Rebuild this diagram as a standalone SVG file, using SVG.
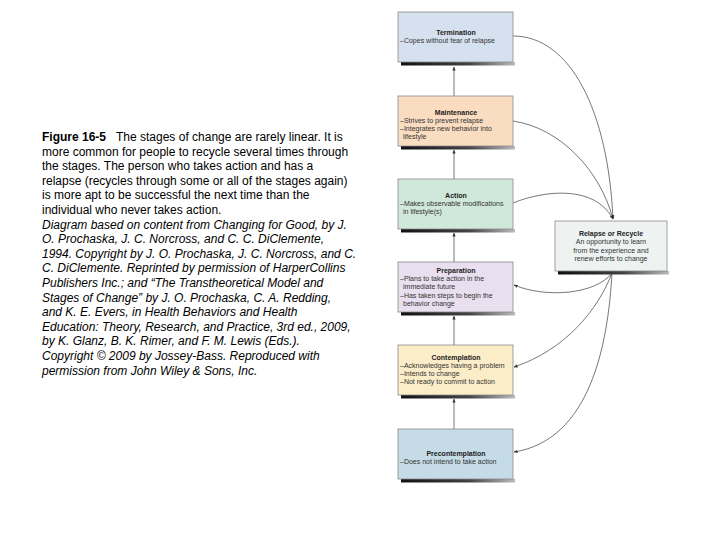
<svg xmlns="http://www.w3.org/2000/svg" width="720" height="540" viewBox="0 0 720 540">
<style>
.cap{font-family:"Liberation Sans",Arial,sans-serif;font-size:12px;fill:#000}
.it{font-style:italic}
.box{stroke:#8a8a8a;stroke-width:0.8}
.t{font-family:"Liberation Sans",Arial,sans-serif;font-size:7px;fill:#333}
.tb{font-weight:bold;text-anchor:middle;fill:#222}
.c{text-anchor:middle}
.ln{fill:none;stroke:#555;stroke-width:0.8}
</style>
<defs>
<linearGradient id="sh" x1="0" y1="0" x2="1" y2="0">
<stop offset="0" stop-color="#111"/>
<stop offset="0.6" stop-color="#444"/>
<stop offset="1" stop-color="#bbb"/>
</linearGradient>
<marker id="ah" viewBox="0 0 10 10" refX="9" refY="5" markerWidth="4" markerHeight="4" orient="auto" markerUnits="userSpaceOnUse">
<path d="M0,1 L10,5 L0,9 z" fill="#333"/>
</marker>
</defs>
<rect width="720" height="540" fill="#fff"/>

<g id="caption">
<text class="cap" x="42" y="141"><tspan font-weight="bold">Figure 16-5</tspan><tspan x="116">The stages of change are rarely linear. It is</tspan></text>
<text class="cap" x="42" y="155.6">more common for people to recycle several times through</text>
<text class="cap" x="42" y="170.2">the stages. The person who takes action and has a</text>
<text class="cap" x="42" y="184.8">relapse (recycles through some or all of the stages again)</text>
<text class="cap" x="42" y="199.4">is more apt to be successful the next time than the</text>
<text class="cap" x="42" y="214">individual who never takes action.</text>
<text class="cap it" x="42" y="228.6">Diagram based on content from Changing for Good, by J.</text>
<text class="cap it" x="42" y="243.2">O. Prochaska, J. C. Norcross, and C. C. DiClemente,</text>
<text class="cap it" x="42" y="257.8">1994. Copyright by J. O. Prochaska, J. C. Norcross, and C.</text>
<text class="cap it" x="42" y="272.4">C. DiClemente. Reprinted by permission of HarperCollins</text>
<text class="cap it" x="42" y="287">Publishers Inc.; and “The Transtheoretical Model and</text>
<text class="cap it" x="42" y="301.6">Stages of Change” by J. O. Prochaska, C. A. Redding,</text>
<text class="cap it" x="42" y="316.2">and K. E. Evers, in Health Behaviors and Health</text>
<text class="cap it" x="42" y="330.8">Education: Theory, Research, and Practice, 3rd ed., 2009,</text>
<text class="cap it" x="42" y="345.4">by K. Glanz, B. K. Rimer, and F. M. Lewis (Eds.).</text>
<text class="cap it" x="42" y="360">Copyright © 2009 by Jossey-Bass. Reproduced with</text>
<text class="cap it" x="42" y="374.6">permission from John Wiley &amp; Sons, Inc.</text>
</g>

<g id="connectors">
<line class="ln" x1="454" y1="96" x2="454" y2="67" marker-end="url(#ah)"/>
<line class="ln" x1="454" y1="179" x2="454" y2="150" marker-end="url(#ah)"/>
<line class="ln" x1="454" y1="262" x2="454" y2="233" marker-end="url(#ah)"/>
<line class="ln" x1="454" y1="345" x2="454" y2="316" marker-end="url(#ah)"/>
<line class="ln" x1="454" y1="429" x2="454" y2="399" marker-end="url(#ah)"/>
<path class="ln" d="M513,36 C570,36 608,110 613,219" marker-end="url(#ah)"/>
<path class="ln" d="M513,121 C560,128 600,170 613,219" marker-end="url(#ah)"/>
<path class="ln" d="M513,203 C545,190 595,185 613,219" marker-end="url(#ah)"/>
<path class="ln" d="M612,273 C595,295 545,298 514,285" marker-end="url(#ah)"/>
<path class="ln" d="M612,273 C598,310 565,350 514,367" marker-end="url(#ah)"/>
<path class="ln" d="M612,273 C608,345 590,440 514,452" marker-end="url(#ah)"/>
</g>

<g id="termination">
<rect x="401" y="62" width="114" height="3.5" fill="url(#sh)"/>
<rect class="box" x="398" y="12" width="115" height="50" fill="#d6e1ef"/>
<text class="t tb" x="456" y="35">Termination</text>
<text class="t" x="400" y="43">–Copes without fear of relapse</text>
</g>

<g id="maintenance">
<rect x="401" y="146" width="114" height="3.5" fill="url(#sh)"/>
<rect class="box" x="398" y="96" width="115" height="50" fill="#fadcc1"/>
<text class="t tb" x="456" y="115">Maintenance</text>
<text class="t" x="400" y="123">–Strives to prevent relapse</text>
<text class="t" x="400" y="131">–Integrates new behavior into</text>
<text class="t" x="403" y="139">lifestyle</text>
</g>

<g id="action">
<rect x="401" y="229" width="114" height="3.5" fill="url(#sh)"/>
<rect class="box" x="398" y="179" width="115" height="50" fill="#d0e8dc"/>
<text class="t tb" x="456" y="198">Action</text>
<text class="t" x="400" y="206">–Makes observable modifications</text>
<text class="t" x="403" y="214">in lifestyle(s)</text>
</g>

<g id="preparation">
<rect x="401" y="312" width="114" height="3.5" fill="url(#sh)"/>
<rect class="box" x="398" y="262" width="115" height="50" fill="#e9dfee"/>
<text class="t tb" x="456" y="272.5">Preparation</text>
<text class="t" x="400" y="281">–Plans to take action in the</text>
<text class="t" x="403" y="289.3">immediate future</text>
<text class="t" x="400" y="297.6">–Has taken steps to begin the</text>
<text class="t" x="403" y="305.9">behavior change</text>
</g>

<g id="contemplation">
<rect x="401" y="395" width="114" height="3.5" fill="url(#sh)"/>
<rect class="box" x="398" y="345" width="115" height="50" fill="#fcedc9"/>
<text class="t tb" x="456" y="360">Contemplation</text>
<text class="t" x="400" y="368">–Acknowledges having a problem</text>
<text class="t" x="400" y="376">–Intends to change</text>
<text class="t" x="400" y="384">–Not ready to commit to action</text>
</g>

<g id="precontemplation">
<rect x="401" y="479" width="114" height="3.5" fill="url(#sh)"/>
<rect class="box" x="398" y="429" width="115" height="50" fill="#c5dce6"/>
<text class="t tb" x="456" y="455.5">Precontemplation</text>
<text class="t" x="400" y="463.5">–Does not intend to take action</text>
</g>

<g id="relapse">
<rect x="558" y="271" width="111" height="3.5" fill="url(#sh)"/>
<rect class="box" x="555" y="221" width="112" height="50" fill="#eef3f2"/>
<text class="t tb" x="611" y="235.5">Relapse or Recycle</text>
<text class="t c" x="611" y="244">An opportunity to learn</text>
<text class="t c" x="611" y="252.5">from the experience and</text>
<text class="t c" x="611" y="261">renew efforts to change</text>
</g>
</svg>
